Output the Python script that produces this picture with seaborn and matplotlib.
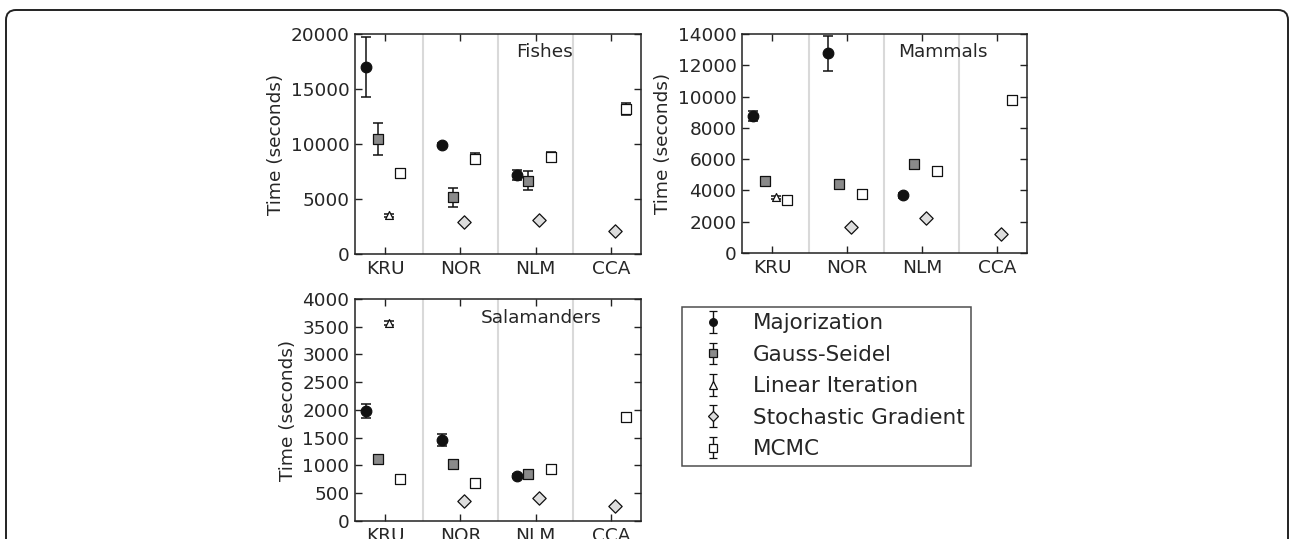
import numpy as np
import pandas as pd
import matplotlib
matplotlib.use("Agg")
import matplotlib.pyplot as plt
import matplotlib.patches as mpatches
from matplotlib.transforms import IdentityTransform
import seaborn as sns

nan = np.nan

categories = ["KRU", "NOR", "NLM", "CCA"]
methods = ["Majorization", "Gauss-Seidel", "Linear Iteration",
           "Stochastic Gradient", "MCMC"]

# Fishes: mean run time and error per method, in category order
fishes_maj = [17000, 9950, 7180, nan]
fishes_maj_err = [2700, 150, 480, nan]
fishes_gs = [10450, 5170, 6680, nan]
fishes_gs_err = [1430, 860, 860, nan]
fishes_li = [3530, nan, nan, nan]
fishes_li_err = [150, nan, nan, nan]
fishes_sg = [nan, 2930, 3110, 2050]
fishes_sg_err = [nan, 40, 40, 40]
fishes_mcmc = [7330, 8650, 8850, 13200]
fishes_mcmc_err = [100, 500, 450, 530]

# Mammals
mammals_maj = [8750, 12770, 3680, nan]
mammals_maj_err = [300, 1120, 150, nan]
mammals_gs = [4590, 4380, 5670, nan]
mammals_gs_err = [120, 100, 220, nan]
mammals_li = [3550, nan, nan, nan]
mammals_li_err = [100, nan, nan, nan]
mammals_sg = [nan, 1650, 2260, 1230]
mammals_sg_err = [nan, 30, 30, 30]
mammals_mcmc = [3400, 3770, 5270, 9770]
mammals_mcmc_err = [60, 60, 60, 120]

# Salamanders
sal_maj = [1980, 1460, 810, nan]
sal_maj_err = [130, 100, 35, nan]
sal_gs = [1120, 1020, 850, nan]
sal_gs_err = [20, 20, 25, nan]
sal_li = [3570, nan, nan, nan]
sal_li_err = [30, nan, nan, nan]
sal_sg = [nan, 355, 410, 270]
sal_sg_err = [nan, 10, 10, 10]
sal_mcmc = [765, 685, 930, 1870]
sal_mcmc_err = [20, 20, 20, 20]

panels = {
    "Fishes": ([fishes_maj, fishes_gs, fishes_li, fishes_sg, fishes_mcmc],
               [fishes_maj_err, fishes_gs_err, fishes_li_err, fishes_sg_err, fishes_mcmc_err]),
    "Mammals": ([mammals_maj, mammals_gs, mammals_li, mammals_sg, mammals_mcmc],
                [mammals_maj_err, mammals_gs_err, mammals_li_err, mammals_sg_err, mammals_mcmc_err]),
    "Salamanders": ([sal_maj, sal_gs, sal_li, sal_sg, sal_mcmc],
                    [sal_maj_err, sal_gs_err, sal_li_err, sal_sg_err, sal_mcmc_err]),
}

yticks = {
    "Fishes": np.arange(0, 20001, 5000),
    "Mammals": np.arange(0, 14001, 2000),
    "Salamanders": np.arange(0, 4001, 500),
}

# styling per method
offsets = {"Majorization": -0.25, "Gauss-Seidel": -0.10, "Linear Iteration": 0.05,
           "Stochastic Gradient": 0.05, "MCMC": 0.20}
markers = {"Majorization": "o", "Gauss-Seidel": "s", "Linear Iteration": "^",
           "Stochastic Gradient": "D", "MCMC": "s"}
fills = {"Majorization": "#111111", "Gauss-Seidel": "#8a8a8a", "Linear Iteration": "white",
         "Stochastic Gradient": "#dddddd", "MCMC": "white"}
sizes = {"Majorization": 58, "Gauss-Seidel": 52, "Linear Iteration": 32,
         "Stochastic Gradient": 46, "MCMC": 52}

FS = 13.3

sns.set_theme(style="ticks")
plt.rcParams["font.family"] = ["DejaVu Sans"]
plt.rcParams["axes.edgecolor"] = "#222222"
plt.rcParams["axes.linewidth"] = 1.1

fig = plt.figure(figsize=(12.9, 5.39), dpi=100)

axes_rects = {
    "Fishes": [0.2752, 0.5288, 0.2217, 0.4081],
    "Mammals": [0.5752, 0.5307, 0.2209, 0.4062],
    "Salamanders": [0.2752, 0.0334, 0.2217, 0.4119],
}
title_pos = {"Fishes": (0.664, 0.918), "Mammals": (0.705, 0.918),
             "Salamanders": (0.65, 0.914)}

for name, (means, errs) in panels.items():
    ax = fig.add_axes(axes_rects[name])
    rows = []
    for m, vals, ers in zip(methods, means, errs):
        for i, (v, e) in enumerate(zip(vals, ers)):
            if not np.isnan(v):
                rows.append({"method": m, "pos": i + offsets[m], "time": v, "err": e})
    df = pd.DataFrame(rows)

    for sep in [0.5, 1.5, 2.5]:
        ax.axvline(sep, color="#d9d9d9", lw=1.5, zorder=0)

    for m in methods:
        sub = df[df["method"] == m]
        ax.errorbar(sub["pos"], sub["time"], yerr=sub["err"], fmt="none",
                    ecolor="#111111", elinewidth=1.1, capsize=3.3, capthick=1.1,
                    zorder=2)
        sns.scatterplot(data=sub, x="pos", y="time", ax=ax, marker=markers[m],
                        color=fills[m], edgecolor="#111111", linewidth=0.9,
                        s=sizes[m], zorder=3, legend=False)

    ax.set_xlim(-0.4, 3.4)
    ax.set_ylim(yticks[name][0], yticks[name][-1])
    ax.set_xticks(range(len(categories)))
    ax.set_xticklabels(categories)
    ax.set_yticks(yticks[name])
    ax.set_xlabel("")
    ax.set_ylabel("Time (seconds)", fontsize=FS, labelpad=4)
    ax.tick_params(direction="in", top=True, right=True, length=5, width=1,
                   labelsize=FS, pad=4, color="#222222")
    ax.text(*title_pos[name], name, transform=ax.transAxes, ha="center",
            va="center", fontsize=FS)

# legend with error-bar style handles
handles = []
for m in methods:
    h = fig.axes[0].errorbar([nan], [nan], yerr=[1], fmt=markers[m], ms=5.5,
                             mfc=fills[m], mec="#111111", mew=0.9,
                             ecolor="#111111", elinewidth=1, capsize=3, label=m)
    handles.append(h)
leg = fig.legend(handles=handles, labels=methods, loc="upper left",
                 bbox_to_anchor=(0.5287, 0.4304), borderaxespad=0,
                 fontsize=15.5, frameon=True, fancybox=False, edgecolor="#222222",
                 handlelength=2.28, handletextpad=0.72, borderpad=0.3,
                 labelspacing=0.53)
leg.get_frame().set_linewidth(1.1)

# rounded outer frame
frame = mpatches.FancyBboxPatch((6, -60), 1282, 529 + 60,
                                boxstyle="round,pad=0,rounding_size=10",
                                transform=IdentityTransform(), fill=False,
                                edgecolor="#222222", lw=1.4)
fig.patches.append(frame)

fig.savefig("out.png", dpi=100)
